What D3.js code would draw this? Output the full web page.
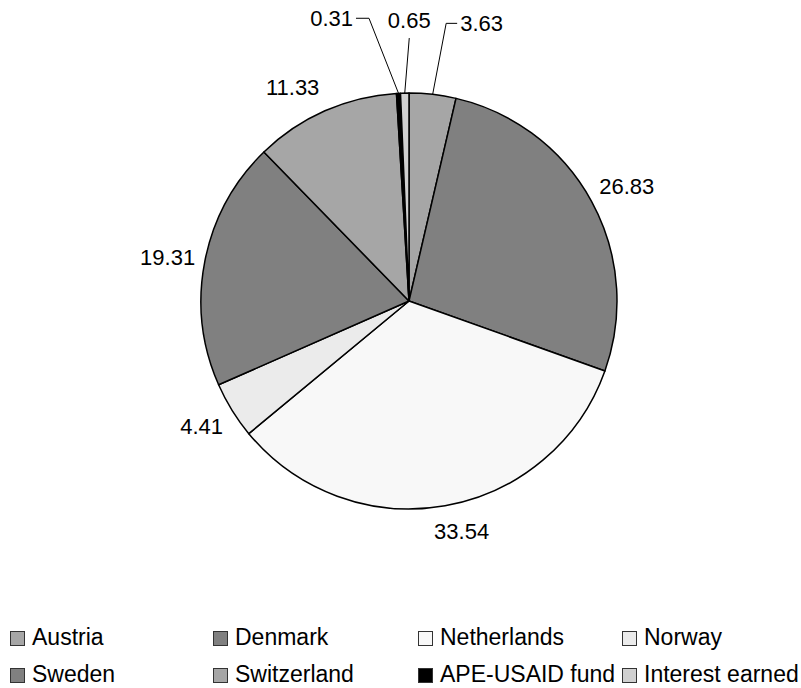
<!DOCTYPE html>
<html>
<head>
<meta charset="utf-8">
<script src="https://cdn.jsdelivr.net/npm/d3@7"></script>
<style>
  html, body { margin: 0; padding: 0; background: #fff; }
  svg { display: block; }
  text { font-family: "Liberation Sans", Arial, sans-serif; fill: #000; }
</style>
</head>
<body>
<svg id="chart" width="801" height="688"></svg>
<script>
// ---- data ----
const categories = ["Austria", "Denmark", "Netherlands", "Norway", "Sweden", "Switzerland", "APE-USAID fund", "Interest earned"];
const values = [3.63, 26.83, 33.54, 4.41, 19.31, 11.33, 0.31, 0.65];
const valueLabels = ["3.63", "26.83", "33.54", "4.41", "19.31", "11.33", "0.31", "0.65"];

// ---- styles / layout ----
const colors = ["#a6a6a6", "#808080", "#f8f8f8", "#ebebeb", "#808080", "#a6a6a6", "#000000", "#d0d0d0"];
const cx = 409, cy = 301, R = 208;
// nudges for normal outside labels
const labelNudge = [null, [-3, -4], [9, 1.5], [1.5, 3.5], [5.5, 0.5], [-15, -2], null, null];
// leader-line labels: elbow offset from slice edge point, horizontal stub, anchor
const leader = {
  0: { elbow: [13.5, -71], stub: 11, anchor: "start" },
  6: { elbow: [-29.5, -75], stub: -13, anchor: "end" },
  7: { elbow: [4.5, -55], stub: 0, anchor: "middle" }
};
const legendCols = [10, 213, 418, 622];
const legendRows = [631, 668];

const svg = d3.select("#chart");
const pie = d3.pie().sort(null).value(d => d);
const arcs = pie(values);
const arc = d3.arc().innerRadius(0).outerRadius(R);

const g = svg.append("g").attr("transform", `translate(${cx},${cy})`);
g.selectAll("path.slice").data(arcs).enter().append("path")
  .attr("class", "slice")
  .attr("d", arc)
  .attr("fill", (d, i) => colors[i])
  .attr("stroke", "#000")
  .attr("stroke-width", 1.5)
  .attr("stroke-linejoin", "round");

const fontLabel = 22;
arcs.forEach((d, i) => {
  const a = (d.startAngle + d.endAngle) / 2;
  const s = Math.sin(a), c = Math.cos(a);
  if (leader[i]) {
    const L = leader[i];
    const ex = R * s, ey = -R * c;
    const bx = ex + L.elbow[0], by = ey + L.elbow[1];
    const pts = [[ex, ey], [bx, by]];
    if (L.stub !== 0) pts.push([bx + L.stub, by]);
    g.append("path")
      .attr("d", d3.line()(pts))
      .attr("fill", "none")
      .attr("stroke", "#000")
      .attr("stroke-width", 1);
    const t = g.append("text")
      .attr("font-size", fontLabel)
      .attr("text-anchor", L.anchor)
      .text(valueLabels[i]);
    if (L.anchor === "middle") {
      t.attr("x", bx).attr("y", by - 10);
    } else {
      t.attr("x", bx + L.stub + (L.stub > 0 ? 3 : -3)).attr("y", by).attr("dy", "0.35em");
    }
  } else {
    const t = g.append("text")
      .attr("font-size", fontLabel)
      .attr("text-anchor", "middle")
      .attr("dy", "0.35em")
      .text(valueLabels[i]);
    const hw = t.node().getComputedTextLength() / 2, hh = 8;
    const rr = R + 16;
    const n = labelNudge[i] || [0, 0];
    t.attr("x", rr * s + s * hw + n[0])
     .attr("y", -rr * c - c * hh + n[1]);
  }
});

// legend
const leg = svg.append("g");
categories.forEach((name, i) => {
  const col = i % 4, row = Math.floor(i / 4);
  const x = legendCols[col], y = legendRows[row];
  leg.append("rect")
    .attr("x", x + 0.5).attr("y", y + 0.5)
    .attr("width", 14).attr("height", 14)
    .attr("fill", colors[i])
    .attr("stroke", "#333")
    .attr("stroke-width", 1);
  leg.append("text")
    .attr("x", x + 22)
    .attr("y", y + 14)
    .attr("font-size", 23)
    .text(name);
});
</script>
</body>
</html>
